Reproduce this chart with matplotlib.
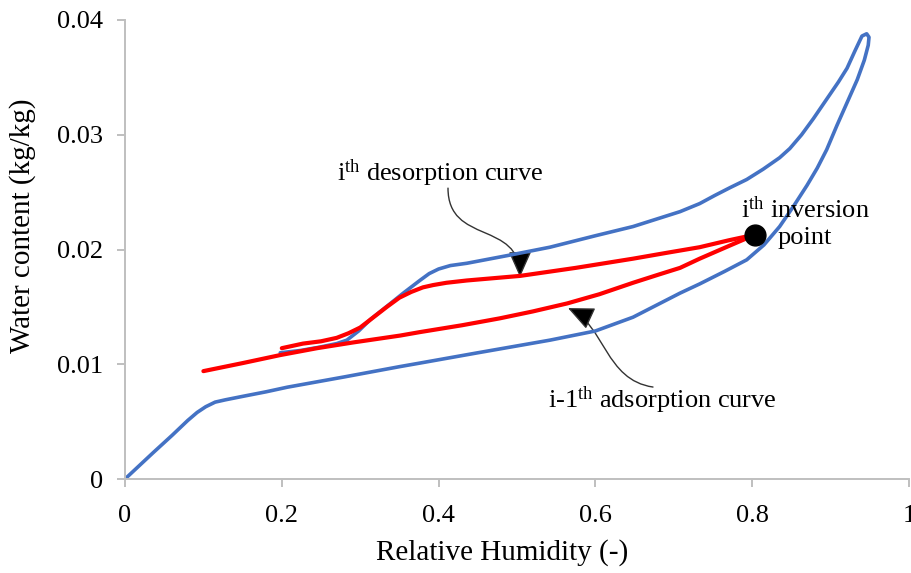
import matplotlib
matplotlib.use("Agg")
import matplotlib.pyplot as plt
from matplotlib.patches import FancyArrowPatch
from matplotlib.path import Path

plt.rcParams["font.family"] = ["Liberation Serif", "DejaVu Serif"]
plt.rcParams["mathtext.fontset"] = "custom"
plt.rcParams["mathtext.rm"] = "Liberation Serif"
plt.rcParams["mathtext.it"] = "Liberation Serif:italic"

# Main hysteresis loop: adsorption branch up to the tip, then desorption branch back down
loop_rh = [0.0, 0.036, 0.060, 0.080, 0.092, 0.103, 0.115, 0.128, 0.15, 0.18, 0.207, 0.28,
           0.351, 0.376, 0.45, 0.542, 0.6, 0.648, 0.708, 0.733, 0.765, 0.793, 0.815,
           0.835, 0.853, 0.870, 0.883, 0.895, 0.908, 0.921, 0.934, 0.943, 0.948, 0.949,
           0.946, 0.940,
           0.931, 0.921, 0.910, 0.9, 0.889, 0.878, 0.863, 0.848, 0.835, 0.814, 0.793,
           0.772, 0.752, 0.733, 0.708, 0.648, 0.6, 0.542, 0.49, 0.436, 0.415, 0.400,
           0.388, 0.376, 0.355, 0.335, 0.313, 0.298, 0.283, 0.27, 0.249, 0.224, 0.198]
loop_wc = [0.0, 0.0023, 0.0038, 0.0051, 0.0058, 0.0063, 0.0067, 0.0069, 0.0072, 0.0076,
           0.0080, 0.0089, 0.0098, 0.0101, 0.0110, 0.0121, 0.0129, 0.0141, 0.0162, 0.0170,
           0.0181, 0.0191, 0.0204, 0.0220, 0.0238, 0.0256, 0.0271, 0.0287, 0.0308, 0.0328,
           0.0348, 0.0365, 0.0378, 0.0385, 0.0388, 0.0386,
           0.0373, 0.0358, 0.0346, 0.0336, 0.0325, 0.0314, 0.0300, 0.0288, 0.0280, 0.0270,
           0.0261, 0.0254, 0.0247, 0.0240, 0.0233, 0.0220, 0.0212, 0.0202, 0.0195, 0.0188,
           0.0186, 0.0183, 0.0179, 0.0173, 0.0162, 0.0151, 0.0139, 0.0129, 0.0121, 0.0118,
           0.0115, 0.0112, 0.0110]

# i-th desorption scanning curve (from the inversion point downwards)
des_rh = [0.804, 0.770, 0.733, 0.690, 0.648, 0.575, 0.504, 0.436, 0.41, 0.393, 0.38,
          0.365, 0.350, 0.334, 0.317, 0.300, 0.285, 0.270, 0.250, 0.227, 0.200]
des_wc = [0.0213, 0.0208, 0.0202, 0.0197, 0.0192, 0.0184, 0.0177, 0.0173, 0.0171, 0.0169,
          0.0167, 0.0163, 0.0158, 0.0150, 0.0141, 0.0132, 0.0127, 0.0123, 0.0120, 0.0118,
          0.0114]

# (i-1)-th adsorption scanning curve (up to the inversion point)
ads_rh = [0.100, 0.150, 0.198, 0.245, 0.291, 0.351, 0.376, 0.430, 0.478, 0.520, 0.564,
          0.605, 0.648, 0.680, 0.708, 0.733, 0.770, 0.804]
ads_wc = [0.0094, 0.0101, 0.0108, 0.0114, 0.0119, 0.0125, 0.0128, 0.0134, 0.0140, 0.0146,
          0.0153, 0.0161, 0.0171, 0.0178, 0.0184, 0.0192, 0.0203, 0.0213]

inversion_rh = [0.804]
inversion_wc = [0.0213]

x_ticks = [0, 0.2, 0.4, 0.6, 0.8, 1.0]
x_tick_labels = ["0", "0.2", "0.4", "0.6", "0.8", "1"]
y_ticks = [0, 0.01, 0.02, 0.03, 0.04]
y_tick_labels = ["0", "0.01", "0.02", "0.03", "0.04"]

fig = plt.figure(figsize=(9.11, 5.73), dpi=100)
ax = fig.add_axes([125 / 911, 94 / 573, 784 / 911, 459 / 573])

ax.plot(loop_rh, loop_wc, color="#4472C4", lw=2.6, solid_capstyle="round",
        solid_joinstyle="round")
ax.plot(ads_rh, ads_wc, color="#FF0000", lw=3.0, solid_capstyle="round",
        solid_joinstyle="round")
ax.plot(des_rh, des_wc, color="#FF0000", lw=3.0, solid_capstyle="round",
        solid_joinstyle="round")
ax.plot(inversion_rh, inversion_wc, "o", color="black", ms=15, zorder=5)

ax.set_xlim(0, 1)
ax.set_ylim(0, 0.04)
ax.set_xticks(x_ticks)
ax.set_xticklabels(x_tick_labels)
ax.set_yticks(y_ticks)
ax.set_yticklabels(y_tick_labels)

for side in ("top", "right"):
    ax.spines[side].set_visible(False)
for side in ("left", "bottom"):
    ax.spines[side].set_color("#BFBFBF")
    ax.spines[side].set_linewidth(1.4)
ax.tick_params(axis="both", colors="#BFBFBF", width=1.4, length=5.5,
               labelcolor="black", labelsize=19)
ax.tick_params(axis="x", pad=13)
ax.tick_params(axis="y", pad=10)

ax.set_xlabel("Relative Humidity (-)", fontsize=21)
ax.set_ylabel("Water content (kg/kg)", fontsize=21)
ax.xaxis.set_label_coords((502 - 125) / 784, -(539 - 479) / 459)
ax.yaxis.set_label_coords(-(125 - 36) / 784, (479 - 226) / 459)


def px(xp, yp):
    return ((xp - 125) / 784, (479 - yp) / 11480)


# Annotations
ax.text(*px(337, 173), r"i$^{\mathrm{th}}$ desorption curve", fontsize=19,
        ha="left", va="center")
ax.text(*px(548, 400), r"i-1$^{\mathrm{th}}$ adsorption curve", fontsize=19,
        ha="left", va="center")
ax.text(*px(805, 210), r"i$^{\mathrm{th}}$ inversion", fontsize=19,
        ha="center", va="center")
ax.text(*px(805, 238), "point", fontsize=19, ha="center", va="center")

arrow_paths = [
    [px(448, 188), px(448, 245), px(520, 220), px(520, 277)],
    [px(653, 387), px(605, 380), px(605, 325), px(568, 308)],
]
for pts in arrow_paths:
    path = Path(pts, [Path.MOVETO, Path.CURVE4, Path.CURVE4, Path.CURVE4])
    arr = FancyArrowPatch(path=path, arrowstyle="-|>,head_length=0.9,head_width=0.4",
                          mutation_scale=18, color="#333333", lw=1.0,
                          transform=ax.transData)
    arr.set_facecolor("black")
    ax.add_patch(arr)

fig.savefig("out.png", dpi=100)
